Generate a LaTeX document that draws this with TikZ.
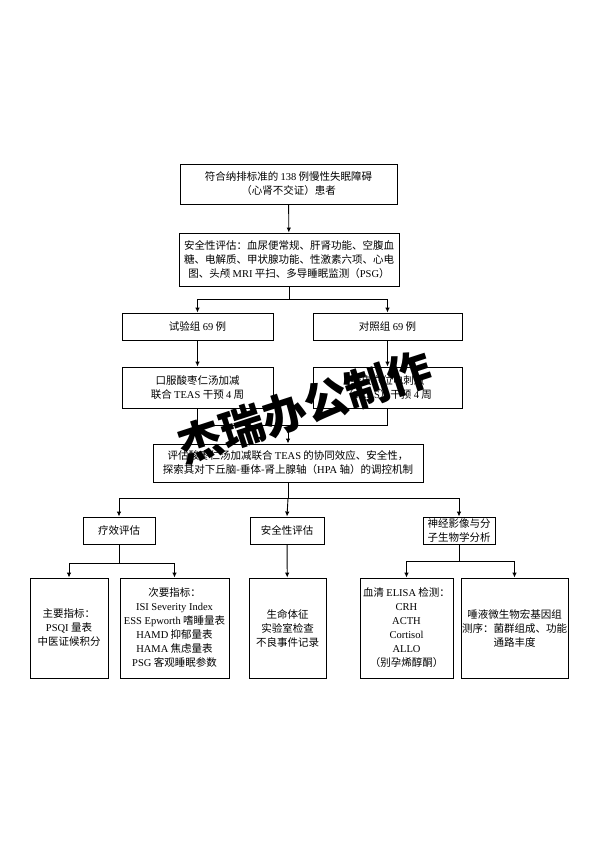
\documentclass[tikz,border=0pt]{standalone}
\usepackage{fontspec}
\setmainfont{Liberation Serif}
\newfontfamily\cjk{Noto Sans CJK SC}
\newfontfamily\en{Liberation Serif}
\newcommand\enw[1]{{\en #1}}
\usetikzlibrary{arrows.meta}

\begin{document}
\begin{tikzpicture}[x=1pt,y=-1pt,
  box/.style={draw, line width=0.9pt, align=center, inner sep=1pt,
    font=\cjk\fontsize{10.5}{14}\selectfont},
  arr/.style={-{Latex[length=5pt,width=4.5pt]}, line width=0.9pt},
  ln/.style={line width=0.9pt}]
\useasboundingbox (0,0) rectangle (594,841);
\node[box, minimum width=217pt, minimum height=40pt] (p) at (288.5,184) {符合纳排标准的 \enw{138} 例慢性失眠障碍\\（心肾不交证）患者};
\node[box, minimum width=220pt, minimum height=53pt] (s) at (289,259.5) {安全性评估：血尿便常规、肝肾功能、空腹血\\糖、电解质、甲状腺功能、性激素六项、心电\\图、头颅 \enw{MRI} 平扫、多导睡眠监测（\enw{PSG}）};
\node[box, minimum width=151pt, minimum height=27pt] (ta) at (197.5,326.5) {试验组 \enw{69} 例};
\node[box, minimum width=149pt, minimum height=27pt] (tb) at (387.5,326.5) {对照组 \enw{69} 例};
\node[box, minimum width=151pt, minimum height=41pt] (ia) at (197.5,387.5) {口服酸枣仁汤加减\\联合 \enw{TEAS} 干预 \enw{4} 周};
\node[box, minimum width=149pt, minimum height=41pt] (ib) at (387.5,387.5) {经皮穴位电刺激\\（\enw{TEAS}）干预 \enw{4} 周};
\node[box, minimum width=270pt, minimum height=38pt] (e) at (288,463) {评估酸枣仁汤加减联合 \enw{TEAS} 的协同效应、安全性，\\探索其对下丘脑-垂体-肾上腺轴（\enw{HPA} 轴）的调控机制};
\node[box, minimum width=72pt, minimum height=27pt] (f1) at (119,530.5) {疗效评估};
\node[box, minimum width=74pt, minimum height=27pt] (f2) at (287,530.5) {安全性评估};
\node[box, minimum width=72pt, minimum height=27pt] (f3) at (459,530.5) {神经影像与分\\子生物学分析};
\node[box, minimum width=78pt, minimum height=100pt] (g1) at (69,628) {主要指标：\\\enw{PSQI} 量表\\中医证候积分};
\node[box, minimum width=109pt, minimum height=100pt] (g2) at (174.5,628) {次要指标：\\\enw{ISI Severity Index}\\\enw{ESS Epworth} 嗜睡量表\\\enw{HAMD} 抑郁量表\\\enw{HAMA} 焦虑量表\\\enw{PSG} 客观睡眠参数};
\node[box, minimum width=77pt, minimum height=100pt] (g3) at (287.5,628) {生命体征\\实验室检查\\不良事件记录};
\node[box, minimum width=93pt, minimum height=100pt] (g4) at (406.5,628) {血清 \enw{ELISA} 检测：\\\enw{CRH}\\\enw{ACTH}\\\enw{Cortisol}\\\enw{ALLO}\\（别孕烯醇酮）};
\node[box, minimum width=101pt, minimum height=100pt] (g5) at (514.5,628) {唾液微生物宏基因组\\测序：菌群组成、功能\\通路丰度};
\draw[arr] (p) -- (s);
\draw[ln] (s.south) -- ++(0,13) coordinate (sb);
\draw[arr] (sb) -| (ta.north);
\draw[arr] (sb) -| (tb.north);
\draw[arr] (ta) -- (ia);
\draw[arr] (tb) -- (ib);
\draw[ln] (ia.south) -- ++(0,17) -| (ib.south);
\draw[arr] (e.north |- 0,425) -- (e.north);
\draw[ln] (e.south) -- ++(0,16) coordinate (eb);
\draw[arr] (eb) -| (f1.north);
\draw[arr] (eb) -| (f3.north);
\draw[arr] (eb) -- (f2.north);
\draw[ln] (f1.south) -- ++(0,19) coordinate (f1b);
\draw[arr] (f1b) -| (g1.north);
\draw[arr] (f1b) -| (g2.north);
\draw[arr] (f2) -- (g3);
\draw[ln] (f3.south) -- ++(0,17) coordinate (f3b);
\draw[arr] (f3b) -| (g4.north);
\draw[arr] (f3b) -| (g5.north);
\node[font=\cjk\bfseries\fontsize{44}{44}\selectfont, rotate=18, inner sep=0pt] (wm) at (305,407) {杰瑞办公制作};
\end{tikzpicture}
\end{document}
